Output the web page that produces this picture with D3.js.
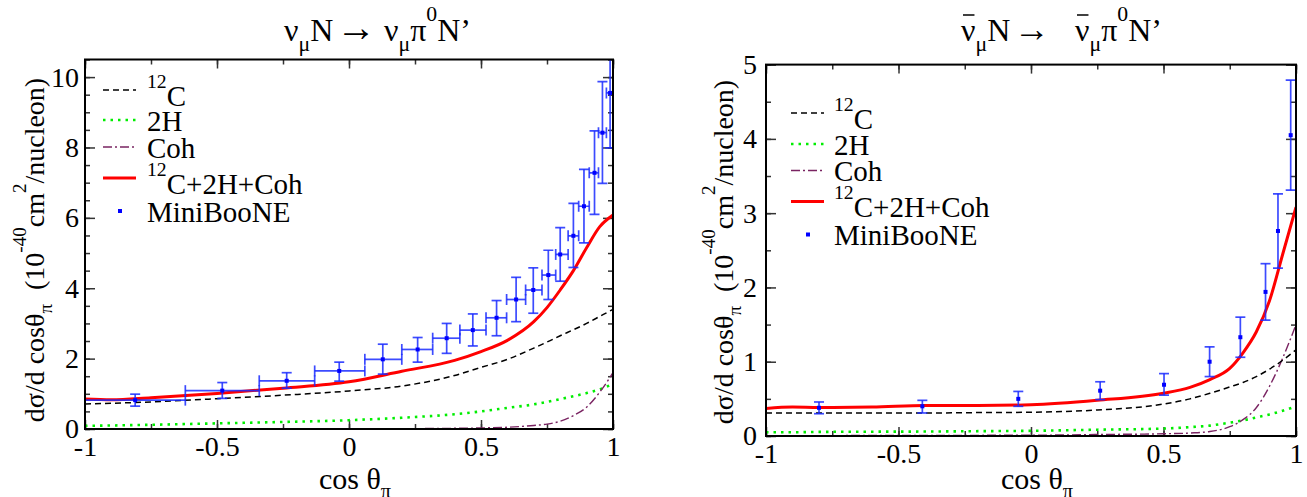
<!DOCTYPE html>
<html>
<head>
<meta charset="utf-8">
<script src="https://cdn.jsdelivr.net/npm/d3@7"></script>
<style>
  body { margin: 0; background: #fff; }
</style>
</head>
<body>
<script>
// ---------- neutrino panel (left) ----------
const nuGrid  = [-1, -0.9, -0.75, -0.5, -0.25, 0, 0.2, 0.4, 0.5, 0.6, 0.7, 0.75, 0.8, 0.85, 0.9, 0.95, 1.0];
const nuTotal = [0.85, 0.83, 0.89, 1.01, 1.16, 1.34, 1.64, 1.95, 2.2, 2.52, 3.05, 3.45, 3.95, 4.5, 5.15, 5.75, 6.08];
const nuC12   = [0.71, 0.73, 0.77, 0.86, 0.96, 1.08, 1.22, 1.52, 1.75, 1.98, 2.3, 2.47, 2.65, 2.82, 3.0, 3.2, 3.4];
const nuH2    = [0.09, 0.1, 0.12, 0.16, 0.2, 0.25, 0.32, 0.42, 0.5, 0.6, 0.7, 0.77, 0.85, 0.93, 1.02, 1.13, 1.28];
const nuCoh   = [0, 0, 0, 0, 0, 0.01, 0.01, 0.02, 0.03, 0.05, 0.1, 0.14, 0.22, 0.38, 0.62, 1.05, 1.6];

const nuDataX = [-0.81, -0.48, -0.236, -0.037, 0.128, 0.26, 0.37, 0.469, 0.559, 0.633, 0.698, 0.755, 0.80, 0.85, 0.89, 0.93, 0.96, 0.989];
const nuDataY = [0.82, 1.09, 1.37, 1.65, 1.98, 2.26, 2.58, 2.81, 3.16, 3.68, 3.95, 4.375, 4.96, 5.49, 6.33, 7.28, 8.42, 9.55];
const nuErrHi = [0.99, 1.32, 1.6, 1.9, 2.41, 2.6, 3.0, 3.27, 3.65, 4.31, 4.58, 5.08, 5.72, 6.41, 7.38, 8.47, 9.87, 11.1];
const nuErrLo = [0.65, 0.87, 1.16, 1.36, 1.56, 1.9, 2.15, 2.36, 2.65, 3.05, 3.29, 3.68, 4.2, 4.59, 5.29, 6.1, 6.98, 7.99];
const nuBins  = [-1, -0.62, -0.34, -0.13, 0.06, 0.2, 0.317, 0.42, 0.519, 0.597, 0.669, 0.731, 0.783, 0.83, 0.87, 0.91, 0.945, 0.975, 1.0];

// ---------- antineutrino panel (right) ----------
const nbGrid  = [-1, -0.9, -0.8, -0.6, -0.4, -0.2, 0, 0.25, 0.5, 0.6, 0.675, 0.75, 0.8, 0.85, 0.9, 0.95, 1.0];
const nbTotal = [0.37, 0.39, 0.385, 0.39, 0.41, 0.41, 0.42, 0.48, 0.575, 0.655, 0.76, 0.91, 1.12, 1.4, 1.82, 2.45, 3.08];
const nbC12   = [0.31, 0.31, 0.31, 0.31, 0.31, 0.315, 0.32, 0.35, 0.43, 0.5, 0.575, 0.66, 0.72, 0.8, 0.9, 1.02, 1.16];
const nbH2    = [0.05, 0.05, 0.055, 0.058, 0.06, 0.065, 0.07, 0.085, 0.1, 0.12, 0.14, 0.18, 0.21, 0.25, 0.29, 0.34, 0.4];
const nbCoh   = [0.005, 0.005, 0.005, 0.007, 0.008, 0.009, 0.01, 0.02, 0.03, 0.04, 0.06, 0.125, 0.22, 0.38, 0.67, 1.05, 1.5];

const nbDataX = [-0.80, -0.41, -0.048, 0.261, 0.502, 0.674, 0.79, 0.885, 0.932, 0.98];
const nbDataY = [0.38, 0.40, 0.50, 0.61, 0.69, 1.0, 1.33, 1.94, 2.76, 4.05];
const nbErrHi = [0.458, 0.48, 0.6, 0.73, 0.84, 1.2, 1.6, 2.32, 3.26, 4.79];
const nbErrLo = [0.30, 0.31, 0.40, 0.49, 0.55, 0.8, 1.06, 1.56, 2.26, 3.31];

const xTicks = [-1, -0.5, 0, 0.5, 1];
const xMinor = d3.range(-1, 1.001, 0.25);

const W = 1307, H = 497;
const FONT = "Liberation Serif";
const FS = 28;          // tick label size

const svg = d3.select("body").append("svg")
  .attr("width", W).attr("height", H)
  .attr("font-family", FONT);

// rich text: segments {t, sub, sup, bar, x, size}
function richText(parent, segs, size, anchor) {
  const t = parent.append("text")
    .attr("font-family", FONT)
    .attr("font-size", size)
    .attr("fill", "#000")
    .attr("text-anchor", anchor || "start")
    .style("white-space", "pre");
  let cur = 0;
  const bars = [];
  segs.forEach(s => {
    const off = s.sub ? size * 0.3 : s.sup ? -size * 0.64 : 0;
    const ts = t.append("tspan").text(s.t).attr("dy", off - cur);
    if (s.sub || s.sup) ts.attr("font-size", size * 0.68);
    if (s.size) ts.attr("font-size", s.size);
    if (s.x !== undefined) ts.attr("x", s.x);
    cur = off;
    if (s.bar) bars.push(ts.node());
  });
  return { t, bars };
}

const legendRows = [
  { segs: [{t: "12", sup: true}, {t: "C"}], kind: "c12", sup: true },
  { segs: [{t: "2H"}], kind: "h2" },
  { segs: [{t: "Coh"}], kind: "coh" },
  { segs: [{t: "12", sup: true}, {t: "C+2H+Coh"}], kind: "tot", sup: true },
  { segs: [{t: "MiniBooNE"}], kind: "data" }
];

const styles = {
  c12: { stroke: "#000", width: 1.5, dash: "6,4" },
  h2:  { stroke: "#00ee00", width: 2.6, dash: "2.5,5" },
  coh: { stroke: "#7a2462", width: 1.4, dash: "9,3,2,3" },
  tot: { stroke: "#ff0000", width: 3, dash: null }
};

function drawPanel(p) {
  const g = svg.append("g");
  const x = d3.scaleLinear().domain([-1, 1]).range([p.left, p.right]);
  const y = d3.scaleLinear().domain([0, p.yMax]).range([p.bottom, p.top]);
  const clipId = "clip" + p.id;
  svg.append("clipPath").attr("id", clipId).append("rect")
    .attr("x", p.left).attr("y", p.top)
    .attr("width", p.right - p.left).attr("height", p.bottom - p.top);

  const fmt = d => String(d);
  const yMaj = d3.range(0, p.yMax + 0.001, p.yStep);
  const yMin = d3.range(0, p.yMax + 0.001, 0.5);

  function axis(gen, tr, vals, size, labels, pad) {
    const a = g.append("g").attr("transform", tr)
      .call(gen.tickValues(vals).tickSize(size).tickPadding(pad || 0)
        .tickFormat(labels ? fmt : ""));
    a.attr("font-family", FONT).attr("font-size", FS);
    a.select(".domain").remove();
    a.selectAll("line").attr("stroke", "#333").attr("stroke-width", 1.5);
    a.selectAll("text").attr("fill", "#000");
    return a;
  }
  axis(d3.axisBottom(x), `translate(0,${p.bottom})`, xMinor, -5, false);
  axis(d3.axisBottom(x), `translate(0,${p.bottom})`, xTicks, -9, true, 7);
  axis(d3.axisTop(x), `translate(0,${p.top})`, xMinor, -5, false);
  axis(d3.axisTop(x), `translate(0,${p.top})`, xTicks, -9, false);
  axis(d3.axisLeft(y), `translate(${p.left},0)`, yMin, -5, false);
  axis(d3.axisLeft(y), `translate(${p.left},0)`, yMaj, -10, true, p.yPad);
  axis(d3.axisRight(y), `translate(${p.right},0)`, yMin, -5, false);
  axis(d3.axisRight(y), `translate(${p.right},0)`, yMaj, -10, false);

  // curves
  const plot = g.append("g").attr("clip-path", `url(#${clipId})`);
  const line = d3.line().x(d => x(d[0])).y(d => y(d[1])).curve(d3.curveMonotoneX);
  [["h2", p.h2], ["coh", p.coh], ["c12", p.c12], ["tot", p.tot]].forEach(([k, vals]) => {
    const s = styles[k];
    plot.append("path")
      .datum(p.grid.map((v, i) => [v, vals[i]]))
      .attr("d", line)
      .attr("fill", "none")
      .attr("stroke", s.stroke)
      .attr("stroke-width", s.width)
      .attr("stroke-dasharray", s.dash);
  });

  // data points with error bars
  const blue = "#1a2cff";
  const pts = p.dx.map((v, i) => ({ x: v, y: p.dy[i], lo: p.lo[i], hi: p.hi[i],
    b0: p.bins ? p.bins[i] : null, b1: p.bins ? p.bins[i + 1] : null }));
  const eb = plot.append("g").attr("stroke", blue).attr("stroke-width", 1.7).attr("stroke-opacity", 0.85);
  pts.forEach(d => {
    eb.append("line").attr("x1", x(d.x)).attr("x2", x(d.x)).attr("y1", y(d.lo)).attr("y2", y(d.hi));
    eb.append("line").attr("x1", x(d.x) - 5).attr("x2", x(d.x) + 5).attr("y1", y(d.lo)).attr("y2", y(d.lo));
    eb.append("line").attr("x1", x(d.x) - 5).attr("x2", x(d.x) + 5).attr("y1", y(d.hi)).attr("y2", y(d.hi));
    if (d.b0 !== null) {
      eb.append("line").attr("x1", x(d.b0)).attr("x2", x(d.b1)).attr("y1", y(d.y)).attr("y2", y(d.y));
      eb.append("line").attr("x1", x(d.b0)).attr("x2", x(d.b0)).attr("y1", y(d.y) - 5.5).attr("y2", y(d.y) + 5.5);
      eb.append("line").attr("x1", x(d.b1)).attr("x2", x(d.b1)).attr("y1", y(d.y) - 5.5).attr("y2", y(d.y) + 5.5);
    }
  });
  plot.selectAll("rect.pt").data(pts).enter().append("rect")
    .attr("x", d => x(d.x) - 2).attr("y", d => y(d.y) - 2)
    .attr("width", 4).attr("height", 4).attr("fill", "#0000ff");

  // frame
  g.append("rect").attr("x", p.left).attr("y", p.top)
    .attr("width", p.right - p.left).attr("height", p.bottom - p.top)
    .attr("fill", "none").attr("stroke", "#000").attr("stroke-width", 2);

  // legend
  const LFS = 29;
  const lg = g.append("g");
  legendRows.forEach((r, i) => {
    const ly = p.legY[i];
    if (r.kind === "data") {
      lg.append("rect").attr("x", p.legX0 + 15).attr("y", ly - 2).attr("width", 4).attr("height", 4).attr("fill", "#0000ff");
    } else {
      const s = styles[r.kind];
      lg.append("line").attr("x1", p.legX0).attr("x2", p.legX0 + 33).attr("y1", ly).attr("y2", ly)
        .attr("stroke", s.stroke).attr("stroke-width", s.width).attr("stroke-dasharray", s.dash);
    }
    const rt = richText(lg, r.segs, LFS);
    const base = r.sup ? ly + 15.5 : ly + 10.5;
    rt.t.attr("x", p.legX0 + p.legTx).attr("y", base);
    if (r.sup) {
      const sp = rt.t.selectAll("tspan").nodes();
      sp[0].setAttribute("dy", -18);
      sp[1].setAttribute("dy", 18);
    }
  });

  // title
  const tt = richText(g, p.title, 32);
  tt.t.attr("x", p.titleX).attr("y", 41);
  tt.bars.forEach(n => {
    const e = n.getExtentOfChar(0);
    g.append("line").attr("x1", e.x + 2).attr("x2", e.x + e.width - 1)
      .attr("y1", 15).attr("y2", 15).attr("stroke", "#000").attr("stroke-width", 1.5);
  });

  // axis labels
  const xl = richText(g, [{t: "cos θ"}, {t: "π", sub: true}], 30, "middle");
  xl.t.attr("x", (p.left + p.right) / 2 + 6).attr("y", 489);

  const yl = richText(g, [
    {t: "dσ/d cosθ"}, {t: "π", sub: true}, {t: "  (10"}, {t: "-40", sup: true},
    {t: "cm"}, {t: "2", sup: true}, {t: "/nucleon)"}
  ], 28, "middle");
  yl.t.attr("transform", `translate(${p.yLabX},${p.yLabY}) rotate(-90)`);
}

drawPanel({
  id: "L", left: 85, right: 613, top: 59.5, bottom: 429, yMax: 10.5, yStep: 2, yPad: 6,
  grid: nuGrid, tot: nuTotal, c12: nuC12, h2: nuH2, coh: nuCoh,
  dx: nuDataX, dy: nuDataY, lo: nuErrLo, hi: nuErrHi, bins: nuBins,
  legY: [90, 120, 147, 178, 211], legX0: 103, legTx: 44,
  title: [{t: "ν"}, {t: "μ", sub: true}, {t: "N"}, {t: "→", x: 336, size: 40}, {t: "ν", x: 384},
          {t: "μ", sub: true}, {t: "π"}, {t: "0", sup: true}, {t: "N’"}],
  titleX: 284, yLabX: 44, yLabY: 250
});

drawPanel({
  id: "R", left: 766, right: 1296, top: 64.6, bottom: 436, yMax: 5, yStep: 1, yPad: 9,
  grid: nbGrid, tot: nbTotal, c12: nbC12, h2: nbH2, coh: nbCoh,
  dx: nbDataX, dy: nbDataY, lo: nbErrLo, hi: nbErrHi, bins: null,
  legY: [113, 144, 170.5, 201.5, 234.5], legX0: 791, legTx: 43,
  title: [{t: "ν", bar: true}, {t: "μ", sub: true}, {t: "N"}, {t: "→", x: 1014, size: 36}, {t: "ν", bar: true, x: 1075},
          {t: "μ", sub: true}, {t: "π"}, {t: "0", sup: true}, {t: "N’"}],
  titleX: 961, yLabX: 733, yLabY: 252
});
</script>
</body>
</html>
